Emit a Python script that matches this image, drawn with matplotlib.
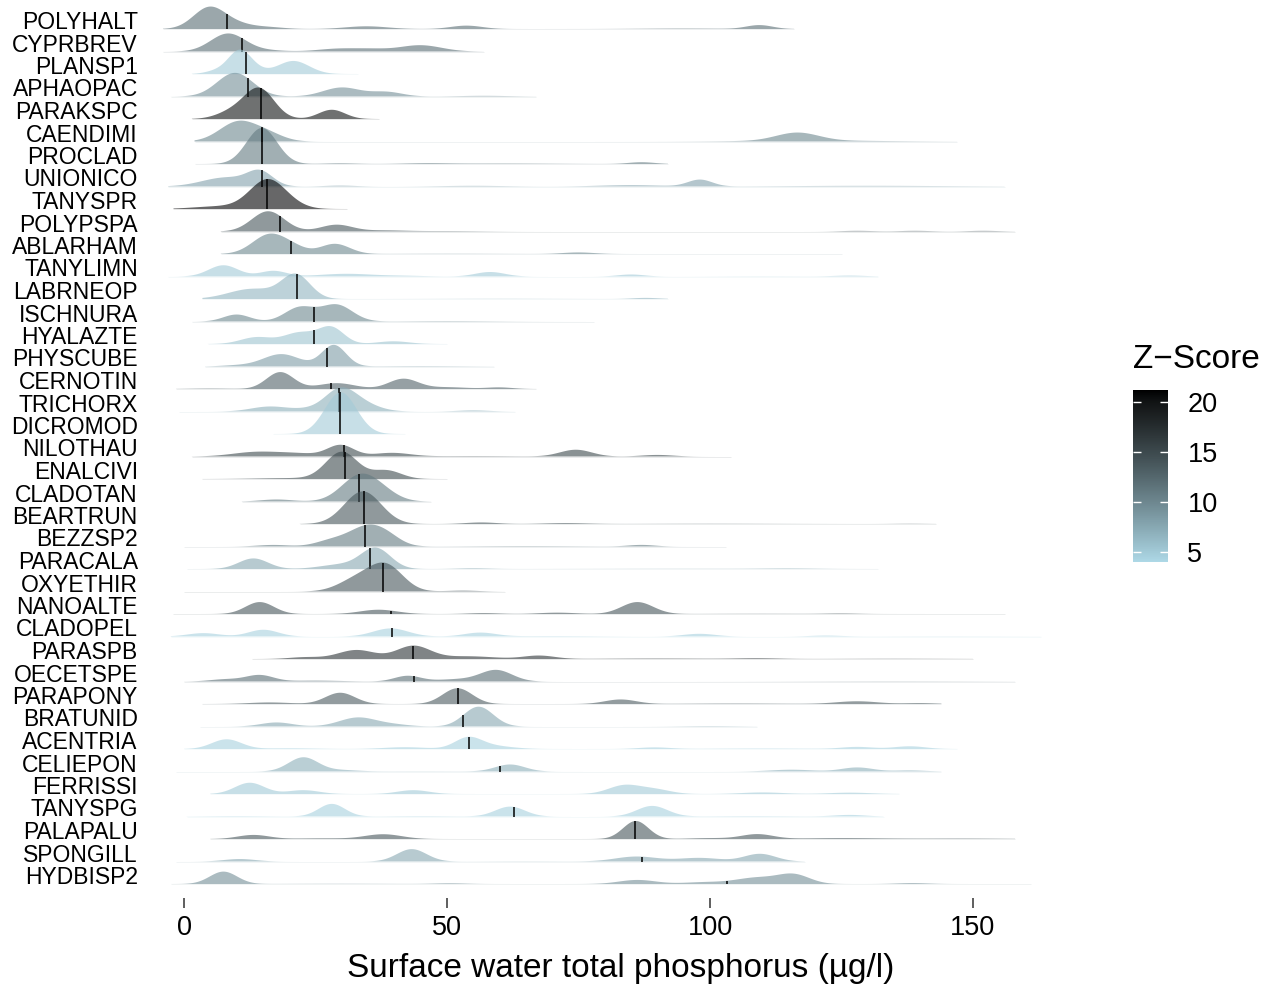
import numpy as np
import matplotlib
matplotlib.use("Agg")
import matplotlib.pyplot as plt
from matplotlib.colors import ListedColormap, Normalize
import matplotlib.colorbar as mcolorbar

plt.rcParams['font.family'] = ['Liberation Sans', 'DejaVu Sans']

# ---------------- data ----------------
taxa = ["POLYHALT", "CYPRBREV", "PLANSP1", "APHAOPAC", "PARAKSPC", "CAENDIMI",
        "PROCLAD", "UNIONICO", "TANYSPR", "POLYPSPA", "ABLARHAM", "TANYLIMN",
        "LABRNEOP", "ISCHNURA", "HYALAZTE", "PHYSCUBE", "CERNOTIN", "TRICHORX",
        "DICROMOD", "NILOTHAU", "ENALCIVI", "CLADOTAN", "BEARTRUN", "BEZZSP2",
        "PARACALA", "OXYETHIR", "NANOALTE", "CLADOPEL", "PARASPB", "OECETSPE",
        "PARAPONY", "BRATUNID", "ACENTRIA", "CELIEPON", "FERRISSI", "TANYSPG",
        "PALAPALU", "SPONGILL", "HYDBISP2"]

zscore = [12, 12, 5, 9.5, 20, 10, 11, 8, 21, 14, 10, 5, 6.5, 10, 5.5, 8.5,
          13, 7, 5, 15, 15, 11, 14, 11, 7.5, 14, 14, 4.5, 17, 12, 13.5, 7.5,
          4.5, 7, 5, 4.5, 14, 7.5, 9.5]

change_point = [8.1, 11.0, 11.7, 12.1, 14.6, 14.8, 14.8, 14.9, 15.8, 18.2,
                20.3, np.nan, 21.5, 24.8, 24.8, 27.1, 27.9, 29.5, 29.7, 30.5,
                30.7, 33.3, 34.2, 34.4, 35.4, 37.9, 39.3, 39.6, 43.5, 43.7,
                52.0, 53.0, 54.2, 60.1, 60.4, 62.8, 85.7, 87.0, 103.2]

# observed range of TP for each taxon
tp_min = [-4, -4, 1.5, -2.5, 1.5, 2, 2, -3, -2, 7, 7, -3, 3.5, 1.5, 4.5, 4,
          -1.5, -1, 17, 1.5, 3.5, 11, 22, 0, 0.5, 0, -2, -2.5, 13, 0, 3.5, 3,
          0, -1.5, 5, 0.5, 5, -1.5, -2.5]
tp_max = [116, 57, 33, 67, 37, 147, 92, 156, 31, 158, 125, 132, 92, 78, 50,
          59, 67, 63, 42, 104, 50, 47, 143, 103, 132, 61, 156, 163, 150, 158,
          144, 109, 147, 144, 136, 133, 158, 118, 161]

# kernel-density modes of each taxon's ridge: centre, spread, scaled density
mode_centre = [
    [4.8, 10, 16, 34.7, 53.7, 95, 109.4],
    [8.4, 16, 29.7, 36, 44.9],
    [6, 10.6, 14, 20.8],
    [9.7, 30, 38.5, 57],
    [9.5, 14.4, 28.1],
    [10.3, 16, 116.6, 120],
    [14.8, 29.7, 46, 60, 87],
    [8, 14.5, 29.7, 55, 85, 98.1, 130],
    [7, 15.8, 20],
    [16, 29, 38, 50, 128, 139, 152],
    [16.3, 21, 28.7, 50, 75],
    [7.5, 17, 30.9, 42, 58.2, 85, 110, 126.6],
    [13, 21.3, 60, 87.8],
    [10, 22, 29, 50],
    [13.8, 22, 28, 39.8],
    [10, 18.5, 28.5, 45],
    [5, 18.3, 29, 41.7, 50, 60],
    [16.3, 24, 29.5, 33, 55],
    [29.8],
    [13.8, 22, 29.8, 39.5, 55, 74.5, 90],
    [20, 30, 38.5],
    [17.6, 33.5, 38],
    [34, 56.5, 72.5, 100, 138],
    [17, 28, 35, 39, 65, 87],
    [13.2, 30, 36.5, 55, 95, 115],
    [33, 38.5, 53],
    [14.4, 37, 57, 71, 86.2, 110, 125],
    [3.7, 15.1, 39.3, 56.3, 70, 98, 122, 145],
    [23, 32.8, 43.6, 54, 67.5, 90, 109, 135],
    [8, 14.4, 25, 42.5, 52, 59.4, 135],
    [16.3, 29.7, 52, 83, 105, 128, 140],
    [17.6, 33.1, 40, 56, 100],
    [8.1, 20, 42, 54, 58, 89.4, 110, 128, 138],
    [22.7, 30, 45, 62, 115.5, 128, 138],
    [12.5, 22.7, 43.6, 83.7, 89.5, 110, 126.6],
    [10, 28.1, 45, 62, 89, 108, 126.6],
    [13.2, 26, 37.9, 85.9, 100, 109, 125, 148],
    [10.6, 43.3, 65, 86, 98, 109.5],
    [7.5, 30, 50.6, 86.2, 99, 109, 116, 138.5],
]
mode_spread = [
    [3.0, 3, 3, 4, 3, 8, 2.5],
    [3.3, 3, 4, 3, 4],
    [2, 2.2, 2, 3.0],
    [3.4, 3.5, 3, 5],
    [3, 2.8, 2.5],
    [3.5, 3, 4, 12],
    [2.9, 3, 4, 10, 2.5],
    [4.5, 2.4, 3, 6, 6, 2.3, 15],
    [5, 3.3, 3],
    [3.1, 3, 4, 6, 3, 3, 3],
    [3.2, 2.5, 2.8, 10, 3],
    [2.8, 2.5, 5, 4, 2.8, 2.5, 8, 3],
    [4.5, 2.7, 10, 2.5],
    [2.5, 2.8, 3, 8],
    [3, 3, 2.4, 3],
    [3, 3.5, 2.3, 8],
    [4, 2.6, 3.5, 2.8, 4, 2.5],
    [3.5, 3, 2.8, 3.5, 3],
    [3.0],
    [4.5, 4, 2.5, 3.5, 8, 3, 3],
    [6, 3, 2.8],
    [3, 3.5, 3],
    [3.5, 3, 4, 12, 3],
    [3, 3, 3.5, 2.5, 10, 2.5],
    [2.8, 4, 2.8, 3, 15, 5],
    [3.5, 3.2, 3],
    [2.7, 3.5, 3, 3.5, 3, 10, 3],
    [3, 2.8, 3.3, 3, 8, 3, 3, 12],
    [3, 3.5, 3.2, 5, 3, 10, 4, 10],
    [3, 2.6, 5, 2.5, 4, 3, 15],
    [4, 2.8, 2.8, 3, 10, 4, 3],
    [3, 3.5, 3, 2.8, 5],
    [2.8, 5, 4, 2.5, 4, 3, 10, 3, 3],
    [2.8, 3, 10, 2.8, 4, 3, 3],
    [2.8, 3, 3, 3, 3, 4, 4],
    [6, 2.5, 6, 2.8, 2.9, 8, 3],
    [3, 5, 3.5, 2.4, 4, 3, 8, 8],
    [3, 2.8, 8, 4, 4, 3],
    [2.6, 10, 3, 3.5, 4, 4, 3, 3],
]
mode_density = [
    [0.95, 0.2, 0.08, 0.12, 0.15, 0.02, 0.17],
    [0.8, 0.05, 0.13, 0.08, 0.28],
    [0.12, 1.05, 0.1, 0.58],
    [1.05, 0.4, 0.2, 0.03],
    [0.35, 1.3, 0.41],
    [0.87, 0.3, 0.36, 0.04],
    [1.6, 0.03, 0.03, 0.02, 0.08],
    [0.4, 0.6, 0.04, 0.03, 0.06, 0.3, 0.03],
    [0.12, 1.25, 0.15],
    [0.9, 0.3, 0.05, 0.02, 0.03, 0.03, 0.03],
    [0.87, 0.2, 0.45, 0.01, 0.07],
    [0.5, 0.25, 0.12, 0.03, 0.2, 0.09, 0.01, 0.04],
    [0.45, 1.05, 0.01, 0.05],
    [0.31, 0.62, 0.74, 0.02],
    [0.3, 0.5, 0.72, 0.12],
    [0.05, 0.55, 0.95, 0.02],
    [0.02, 0.75, 0.26, 0.45, 0.08, 0.07],
    [0.22, 0.1, 0.8, 0.4, 0.05],
    [1.85],
    [0.2, 0.12, 0.5, 0.16, 0.02, 0.3, 0.07],
    [0.04, 1.2, 0.38],
    [0.09, 1.15, 0.25],
    [1.45, 0.07, 0.04, 0.01, 0.01],
    [0.07, 0.25, 0.9, 0.2, 0.02, 0.07],
    [0.47, 0.2, 0.9, 0.03, 0.01, 0.02],
    [0.55, 1.1, 0.04],
    [0.53, 0.19, 0.04, 0.06, 0.53, 0.01, 0.02],
    [0.15, 0.3, 0.36, 0.17, 0.02, 0.12, 0.04, 0.01],
    [0.08, 0.4, 0.58, 0.12, 0.15, 0.02, 0.03, 0.01],
    [0.1, 0.28, 0.04, 0.25, 0.1, 0.5, 0.01],
    [0.07, 0.5, 0.7, 0.2, 0.02, 0.12, 0.04],
    [0.18, 0.4, 0.08, 0.88, 0.02],
    [0.43, 0.03, 0.08, 0.45, 0.15, 0.07, 0.02, 0.09, 0.12],
    [0.63, 0.06, 0.01, 0.31, 0.08, 0.18, 0.05],
    [0.5, 0.17, 0.17, 0.38, 0.2, 0.07, 0.06],
    [0.02, 0.56, 0.02, 0.44, 0.47, 0.02, 0.07],
    [0.18, 0.03, 0.21, 0.8, 0.04, 0.21, 0.04, 0.02],
    [0.11, 0.55, 0.01, 0.22, 0.16, 0.34],
    [0.55, 0.01, 0.03, 0.18, 0.08, 0.28, 0.4, 0.04],
]

x_ticks = [0, 50, 100, 150]
z_ticks = [5, 10, 15, 20]
z_limits = (4.0, 21.2)


# ---------------- colour scale (lightblue -> black in Lab) ----------------
def _srgb_to_lab(rgb):
    rgb = np.asarray(rgb, float)
    lin = np.where(rgb <= 0.04045, rgb / 12.92, ((rgb + 0.055) / 1.055) ** 2.4)
    M = np.array([[0.4124, 0.3576, 0.1805],
                  [0.2126, 0.7152, 0.0722],
                  [0.0193, 0.1192, 0.9505]])
    xyz = lin @ M.T / np.array([0.95047, 1.0, 1.08883])
    f = np.where(xyz > 0.008856, np.cbrt(xyz), 7.787 * xyz + 16 / 116)
    L = 116 * f[..., 1] - 16
    a = 500 * (f[..., 0] - f[..., 1])
    b = 200 * (f[..., 1] - f[..., 2])
    return np.stack([L, a, b], -1)


def _lab_to_srgb(lab):
    L, a, b = lab[..., 0], lab[..., 1], lab[..., 2]
    fy = (L + 16) / 116
    fx = fy + a / 500
    fz = fy - b / 200
    f = np.stack([fx, fy, fz], -1)
    xyz = np.where(f ** 3 > 0.008856, f ** 3, (f - 16 / 116) / 7.787)
    xyz = xyz * np.array([0.95047, 1.0, 1.08883])
    Minv = np.array([[3.2406, -1.5372, -0.4986],
                     [-0.9689, 1.8758, 0.0415],
                     [0.0557, -0.2040, 1.0570]])
    lin = np.clip(xyz @ Minv.T, 0, 1)
    rgb = np.where(lin <= 0.0031308, 12.92 * lin, 1.055 * lin ** (1 / 2.4) - 0.055)
    return np.clip(rgb, 0, 1)


lab_lo = _srgb_to_lab(np.array([173, 216, 230]) / 255.0)
lab_hi = _srgb_to_lab(np.array([0, 0, 0]) / 255.0)
tt = np.linspace(0, 1, 256)[:, None]
cmap = ListedColormap(_lab_to_srgb(lab_lo * (1 - tt) + lab_hi * tt))
norm = Normalize(*z_limits)

# ---------------- figure ----------------
W, H = 1271, 991
fig = plt.figure(figsize=(W / 100, H / 100), dpi=100)

ax_l, ax_r, ax_t, ax_b = 160, 1060, 0, 898
ax = fig.add_axes([ax_l / W, 1 - ax_b / H, (ax_r - ax_l) / W, (ax_b - ax_t) / H])

n = len(taxa)
px_per_unit = 5.26
x0_px = 184
ax.set_xlim((ax_l - x0_px) / px_per_unit, (ax_r - x0_px) / px_per_unit)
row_px = 22.5
first_base_px = 29
ax.set_ylim((n - 1) - (ax_b - first_base_px) / row_px,
            (n - 1) + (first_base_px - ax_t) / row_px)


def ridge(xs, centres, spreads, dens):
    out = np.zeros_like(xs)
    for c, s, h in zip(centres, spreads, dens):
        out += h * np.exp(-0.5 * ((xs - c) / s) ** 2)
    return out


for i, name in enumerate(taxa):
    base = n - 1 - i
    col = cmap(norm(zscore[i]))
    xs = np.linspace(tp_min[i], tp_max[i], 900)
    ys = ridge(xs, mode_centre[i], mode_spread[i], mode_density[i])
    z = 2 + 2 * i
    ax.fill_between(xs, base, base + ys, facecolor=col, alpha=0.6,
                    linewidth=0, zorder=z)
    ax.plot([tp_min[i], tp_max[i]], [base, base], color=col, alpha=0.15,
            lw=0.5, zorder=z, solid_capstyle='butt')
    cp = change_point[i]
    if not np.isnan(cp):
        hcp = ridge(np.array([cp]), mode_centre[i], mode_spread[i], mode_density[i])[0]
        ax.plot([cp, cp], [base, base + hcp], color='black', lw=1.1,
                zorder=z + 1, solid_capstyle='butt')

for sp in ax.spines.values():
    sp.set_visible(False)

ax.set_yticks(np.arange(n - 1, -1, -1))
ax.set_yticklabels(taxa, fontsize=16.5)
for lab in ax.get_yticklabels():
    lab.set_verticalalignment('baseline')
ax.tick_params(axis='y', length=0, pad=16)

ax.set_xticks(x_ticks)
ax.set_xticklabels([str(v) for v in x_ticks], fontsize=19.5)
ax.tick_params(axis='x', length=7, width=1.1, color='#333333', pad=5)
ax.set_facecolor('none')

fig.text(621 / W, 1 - 969 / H, "Surface water total phosphorus (\u00b5g/l)",
         fontsize=24, ha='center', va='center')

# ---------------- colour bar legend ----------------
cb_l, cb_r, cb_t, cb_b = 1133, 1168, 390, 562
cax = fig.add_axes([cb_l / W, 1 - cb_b / H, (cb_r - cb_l) / W, (cb_b - cb_t) / H])
cb = mcolorbar.ColorbarBase(cax, cmap=cmap, norm=norm, orientation='vertical')
cb.outline.set_visible(False)
cb.set_ticks(z_ticks)
cb.set_ticklabels([str(v) for v in z_ticks])
cax.tick_params(axis='y', which='both', direction='in', length=6, width=1,
                color='white', left=True, right=True, labelleft=False,
                labelright=True, labelsize=19.5, pad=14)
fig.text(cb_l / W, 1 - 360 / H, "Z\u2212Score", fontsize=24, ha='left', va='center')

fig.savefig("out.png", dpi=100)
